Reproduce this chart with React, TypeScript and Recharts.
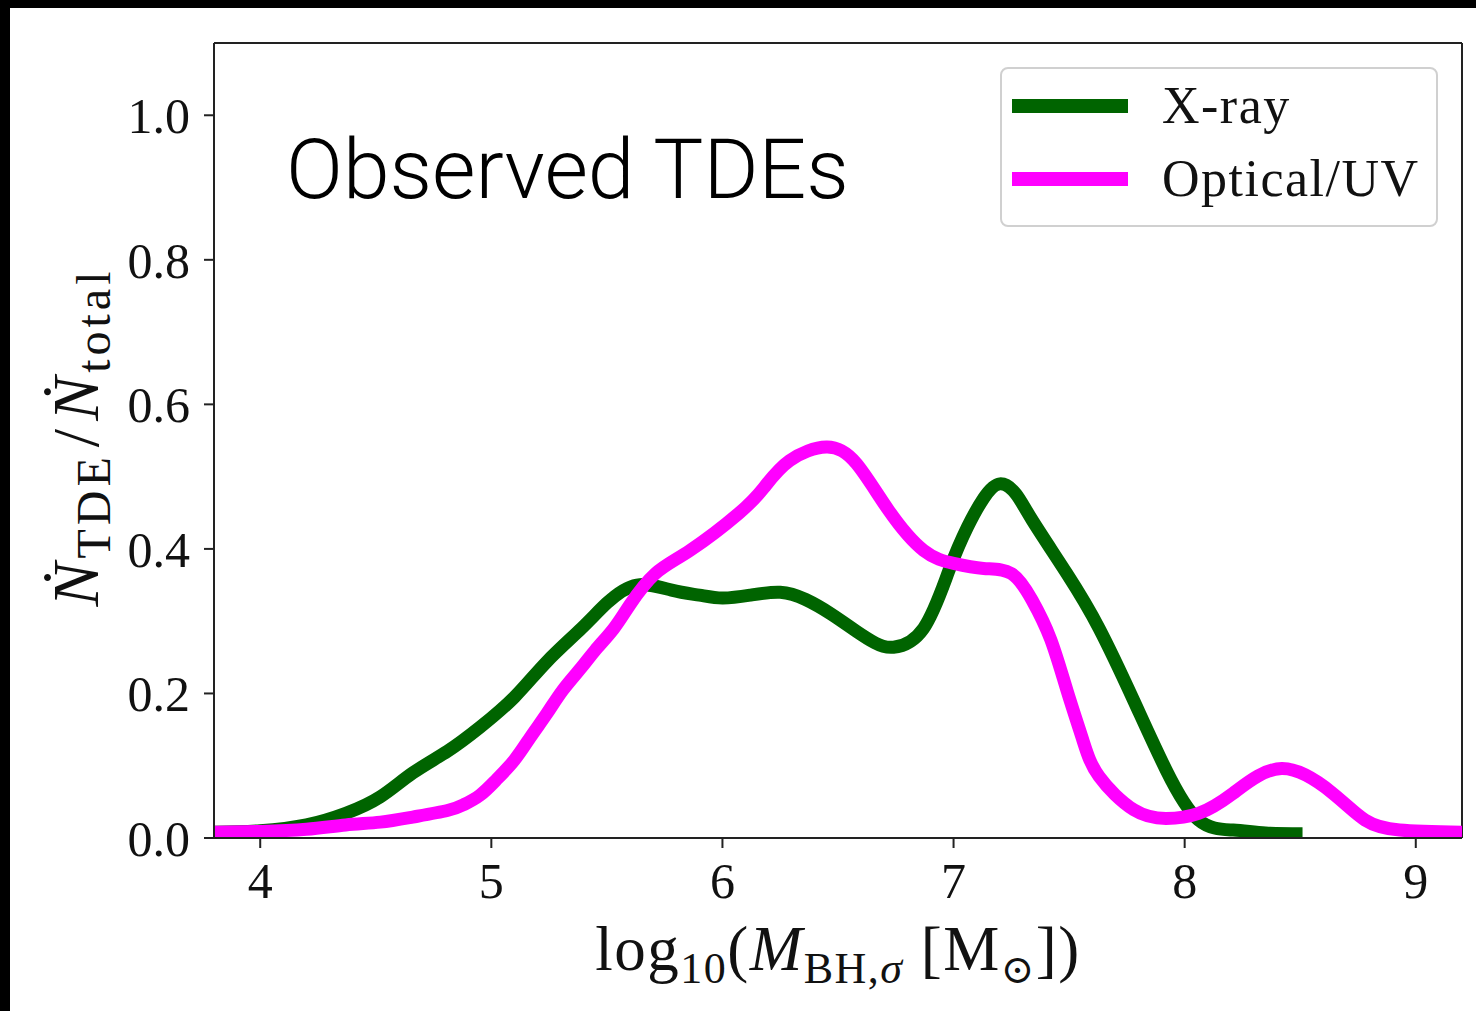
import React from "react";
import { LineChart, Line, XAxis, YAxis, Legend, ReferenceLine } from "recharts";

// log10(M_BH) sample positions and fractions
const XRAY_X = [3.8, 4.0, 4.2, 4.37, 4.52, 4.66, 4.81, 4.95, 5.1, 5.24, 5.39, 5.5, 5.63, 5.78, 5.9, 6.0, 6.12, 6.25, 6.36, 6.47, 6.58, 6.66, 6.74, 6.87, 6.98, 7.06, 7.13, 7.2, 7.27, 7.34, 7.49, 7.63, 7.78, 7.92, 8.06, 8.21, 8.35, 8.51];
const XRAY_Y = [0.008, 0.01, 0.018, 0.034, 0.057, 0.09, 0.12, 0.153, 0.195, 0.244, 0.29, 0.325, 0.35, 0.343, 0.336, 0.332, 0.336, 0.34, 0.33, 0.31, 0.286, 0.27, 0.264, 0.29, 0.37, 0.43, 0.47, 0.49, 0.476, 0.44, 0.366, 0.29, 0.19, 0.094, 0.025, 0.011, 0.007, 0.006];

const OPTICAL_X = [3.8, 4.0, 4.2, 4.37, 4.52, 4.66, 4.81, 4.88, 4.95, 5.02, 5.1, 5.17, 5.24, 5.31, 5.39, 5.45, 5.53, 5.6, 5.71, 5.86, 6.07, 6.18, 6.29, 6.45, 6.58, 6.72, 6.87, 7.0, 7.13, 7.25, 7.34, 7.42, 7.49, 7.56, 7.63, 7.78, 7.92, 8.06, 8.21, 8.42, 8.64, 8.78, 8.93, 9.2];
const OPTICAL_Y = [0.008, 0.009, 0.012, 0.018, 0.022, 0.029, 0.038, 0.046, 0.059, 0.08, 0.108, 0.14, 0.172, 0.205, 0.236, 0.26, 0.29, 0.323, 0.366, 0.398, 0.449, 0.485, 0.522, 0.541, 0.518, 0.453, 0.398, 0.38, 0.373, 0.366, 0.329, 0.275, 0.205, 0.135, 0.085, 0.039, 0.027, 0.034, 0.062, 0.096, 0.062, 0.025, 0.011, 0.008];

const X_TICKS = [4, 5, 6, 7, 8, 9];
const Y_TICKS = [0, 0.2, 0.4, 0.6, 0.8, 1.0];
const SERIES = ["X-ray", "Optical/UV"];

const xray = XRAY_X.map((x, i) => ({ x, y: XRAY_Y[i] }));
const optical = OPTICAL_X.map((x, i) => ({ x, y: OPTICAL_Y[i] }));

const SERIF = "'Liberation Serif', 'DejaVu Serif', serif";
const AXIS = "#222";

function XLabel(props: any) {
  const vb = props.viewBox;
  const cx = vb.x + vb.width / 2;
  return (
    <text x={cx} y={vb.y + 132} textAnchor="middle" fontFamily={SERIF} fontSize={63} letterSpacing={1.5} fill="#111">
      <tspan>log</tspan>
      <tspan fontSize={44} dy={13}>10</tspan>
      <tspan dy={-13}>(</tspan>
      <tspan fontStyle="italic">M</tspan>
      <tspan fontSize={44} dy={13}>BH,</tspan>
      <tspan fontSize={44} fontStyle="italic">σ</tspan>
      <tspan dy={-13}> [M</tspan>
      <tspan fontSize={40} dy={13}>⊙</tspan>
      <tspan dy={-13}>])</tspan>
    </text>
  );
}

function YLabel() {
  const cx = 98;
  const cy = 437;
  return (
    <text
      x={cx}
      y={cy}
      transform={`rotate(-90, ${cx}, ${cy})`}
      textAnchor="middle"
      fontFamily={SERIF}
      fontSize={66}
      letterSpacing={4}
      fill="#111"
    >
      <tspan fontStyle="italic">Ṅ</tspan>
      <tspan fontSize={48} dy={12}>TDE</tspan>
      <tspan dy={-12} dx={6}>/</tspan>
      <tspan fontStyle="italic" dx={4}>Ṅ</tspan>
      <tspan fontSize={48} dy={12}>total</tspan>
    </text>
  );
}

function LegendBox(props: any) {
  const items = [...(props.payload || [])].sort(
    (a: any, b: any) => SERIES.indexOf(a.value) - SERIES.indexOf(b.value)
  );
  return (
    <div
      style={{
        position: "absolute",
        left: 1000,
        top: 67,
        width: 438,
        height: 160,
        border: "2px solid #d0d0d0",
        borderRadius: 8,
        background: "white",
        boxSizing: "border-box",
      }}
    >
      {items.map((it: any, i: number) => (
        <div
          key={it.value}
          style={{ position: "absolute", left: 10, top: 12 + i * 73, height: 50, display: "flex", alignItems: "center" }}
        >
          <div style={{ width: 116, height: 14, background: it.color }} />
          <span
            style={{
              marginLeft: 34,
              fontFamily: SERIF,
              fontSize: 52,
              letterSpacing: 1.5,
              color: "#111",
              lineHeight: "50px",
            }}
          >
            {it.value}
          </span>
        </div>
      ))}
    </div>
  );
}

export default function App() {
  return (
    <div style={{ position: "absolute", left: 0, top: 0, width: 1476, height: 1011, background: "white", overflow: "hidden" }}>
      <LineChart width={1476} height={1011} margin={{ top: 43, right: 14, left: 0, bottom: 0 }}>
        <XAxis
          type="number"
          dataKey="x"
          domain={[3.8, 9.2]}
          ticks={X_TICKS}
          allowDataOverflow
          height={173}
          tickSize={10}
          tickMargin={14}
          axisLine={{ stroke: AXIS, strokeWidth: 2 }}
          tickLine={{ stroke: AXIS, strokeWidth: 2 }}
          tick={{ fontFamily: SERIF, fontSize: 50, fill: "#111" }}
          label={<XLabel />}
        />
        <YAxis
          type="number"
          domain={[0, 1.1]}
          ticks={Y_TICKS}
          allowDataOverflow
          width={214}
          tickSize={10}
          tickMargin={14}
          tickFormatter={(v: number) => v.toFixed(1)}
          axisLine={{ stroke: AXIS, strokeWidth: 2 }}
          tickLine={{ stroke: AXIS, strokeWidth: 2 }}
          tick={{ fontFamily: SERIF, fontSize: 50, fill: "#111" }}
          label={<YLabel />}
        />
        <ReferenceLine x={9.2} stroke={AXIS} strokeWidth={2} />
        <ReferenceLine y={1.1} stroke={AXIS} strokeWidth={2} />
        <Line
          data={xray}
          dataKey="y"
          name="X-ray"
          type="natural"
          stroke="#006400"
          strokeWidth={13}
          dot={false}
          isAnimationActive={false}
        />
        <Line
          data={optical}
          dataKey="y"
          name="Optical/UV"
          type="natural"
          stroke="#ff00ff"
          strokeWidth={13}
          dot={false}
          isAnimationActive={false}
        />
        <Legend
          layout="horizontal"
          verticalAlign="middle"
          align="center"
          content={<LegendBox />}
          wrapperStyle={{ position: "absolute", left: 0, top: 0, width: 0, height: 0 }}
        />
      </LineChart>
      <div
        style={{
          position: "absolute",
          left: 286,
          top: 122,
          fontFamily: "Roboto, 'Liberation Sans', sans-serif",
          fontWeight: 300,
          fontSize: 84,
          lineHeight: "96px",
          color: "#000",
          whiteSpace: "nowrap",
        }}
      >
        Observed TDEs
      </div>
      <div style={{ position: "absolute", left: 0, top: 0, width: 1476, height: 8, background: "#000" }} />
      <div style={{ position: "absolute", left: 0, top: 0, width: 10, height: 1011, background: "#000" }} />
    </div>
  );
}
